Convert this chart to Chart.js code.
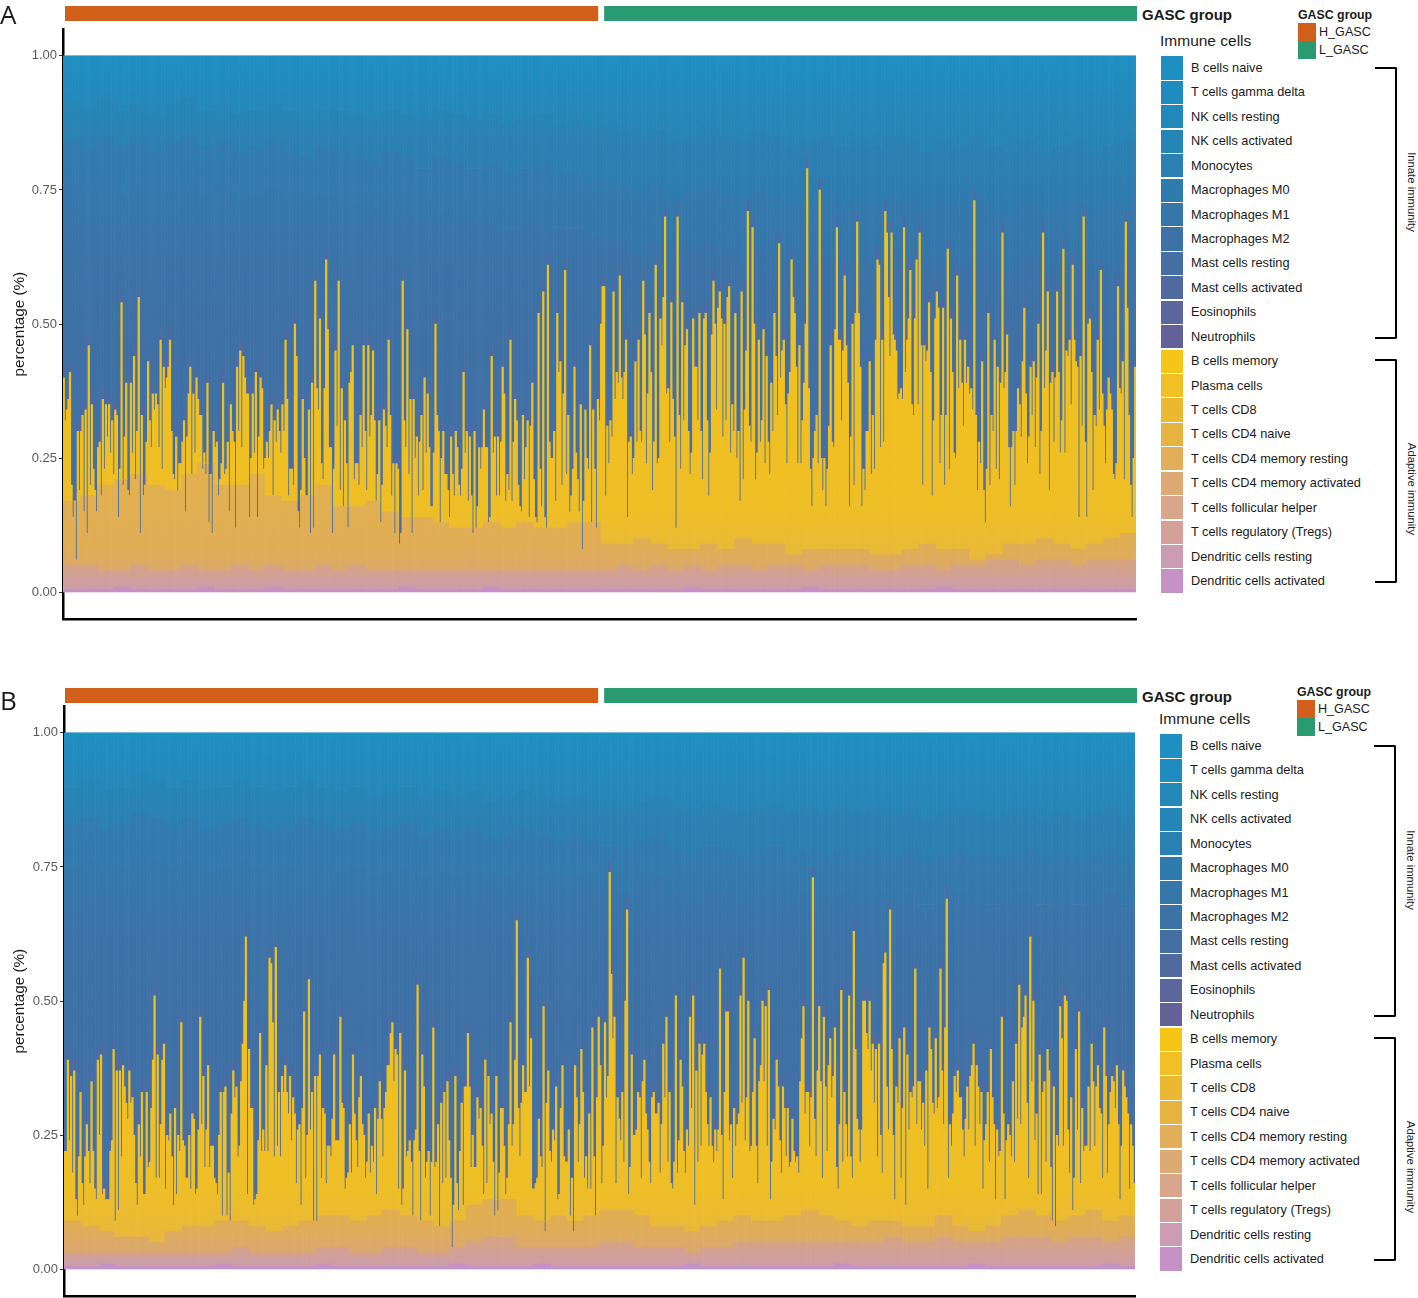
<!DOCTYPE html>
<html>
<head>
<meta charset="utf-8">
<title>Immune cell fractions by GASC group</title>
<script src="https://cdn.jsdelivr.net/npm/chart.js@4"></script>
<style>
  html, body { margin: 0; padding: 0; background: #fff; overflow: hidden; }
  body { width: 1418px; height: 1298px; position: relative; font-family: "Liberation Sans", Arial, sans-serif; color: #1a1a1a; }
  canvas { position: absolute; left: 0; }
  .txt { position: absolute; white-space: nowrap; line-height: 1; transform: translateY(-50%); }
  .swatch { position: absolute; }
  .bracket { position: absolute; border: solid #000; border-width: 2.5px 2.5px 2.5px 0; border-radius: 0 2px 2px 0; box-sizing: border-box; }
  .vert { position: absolute; writing-mode: vertical-rl; font-size: 11.3px; white-space: nowrap; transform: translateY(-50%); color: #222; }
</style>
</head>
<body>
<canvas id="panelA"></canvas>
<canvas id="panelB"></canvas>
<script>
const tickValues = [0, 0.25, 0.5, 0.75, 1];

const innateNames = ["B cells naive", "T cells gamma delta", "NK cells resting", "NK cells activated", "Monocytes", "Macrophages M0", "Macrophages M1", "Macrophages M2", "Mast cells resting", "Mast cells activated", "Eosinophils", "Neutrophils"];
const adaptiveNames = ["B cells memory", "Plasma cells", "T cells CD8", "T cells CD4 naive", "T cells CD4 memory resting", "T cells CD4 memory activated", "T cells follicular helper", "T cells regulatory (Tregs)", "Dendritic cells resting", "Dendritic cells activated"];
const innateColors = ["#1f8ec1", "#1f8bbe", "#2288ba", "#2485b7", "#2a80b2", "#2e7bae", "#3677aa", "#3c72a6", "#456ea3", "#506aa0", "#5a669c", "#636197"];
const adaptiveColors = ["#f5c518", "#f0c026", "#ebb931", "#e6b340", "#e2ae5a", "#dcaa72", "#d8a68a", "#d3a09a", "#cc9cb2", "#c692c6"];

const groupNames = ["H_GASC", "L_GASC"];
const groupColors = ["#d2601a", "#2a9a72"];
const groupCountsA = [342, 345];
const groupCountsB = [340, 343];

// top of the yellow (adaptive) part of each bar, percent, panel A
const adaptiveTopA = [40,32,34,36,41,20,14,17,6,30,19,30,33,15,34,11,46,20,35,23,19,15,27,28,18,36,23,35,29,35,26,32,22,34,33,14,23,54,20,29,39,19,18,39,26,44,21,30,55,11,33,18,20,28,43,32,27,37,34,37,35,27,47,23,42,38,40,42,47,30,22,21,29,19,24,24,28,32,15,29,37,42,22,37,26,40,36,33,33,23,26,22,39,13,22,11,30,27,28,18,21,24,39,22,23,28,15,35,30,28,12,42,30,45,27,44,40,37,37,14,25,37,26,41,14,29,40,38,23,25,28,25,30,35,18,32,28,34,30,26,35,30,47,36,18,23,23,20,50,44,15,12,19,36,25,18,18,34,11,39,12,58,38,34,51,24,21,38,
62,49,27,27,11,23,45,31,58,19,38,16,32,24,12,39,41,46,21,24,24,20,33,27,46,30,19,46,29,33,45,32,17,22,32,13,20,34,31,27,47,33,18,24,11,24,23,9,11,58,32,27,49,22,36,11,36,25,29,18,28,33,19,40,26,37,27,16,16,26,50,33,30,13,25,30,22,22,19,14,29,22,18,30,27,20,18,23,41,26,30,17,29,18,11,30,12,16,27,23,27,34,27,27,13,14,44,26,29,18,29,18,28,42,37,17,22,19,47,17,28,36,32,20,16,15,33,21,27,32,14,31,39,21,14,13,52,23,16,56,14,12,61,28,25,25,30,17,52,41,43,20,37,60,22,33,15,18,23,42,26,21,15,35,8,17,34,25,23,46,13,34,23,12,
36,32,50,57,57,18,31,24,32,29,56,36,41,39,59,40,36,41,47,14,28,29,22,25,43,28,47,30,28,58,48,24,37,52,41,19,28,61,24,25,51,46,55,70,37,38,28,54,36,29,12,70,33,23,54,32,46,49,30,22,26,51,42,42,32,52,30,21,51,52,32,18,26,48,58,50,34,53,56,51,29,50,32,55,57,26,35,30,52,25,30,17,56,21,34,45,71,31,28,68,50,21,26,47,28,32,49,24,44,28,22,39,30,52,44,33,65,40,45,47,35,24,37,41,62,55,52,42,24,46,24,32,39,50,79,38,23,16,25,30,33,24,75,25,19,25,16,23,31,46,28,27,49,68,47,47,32,45,59,46,39,16,29,50,20,52,69,52,42,16,23,19,30,
30,43,22,33,23,47,62,61,27,47,28,71,67,55,44,67,48,47,45,36,37,38,36,68,41,47,51,60,35,33,51,62,35,67,46,20,46,43,45,54,41,18,32,51,56,53,24,33,53,20,33,64,23,51,41,26,25,59,38,47,39,31,47,39,42,37,38,34,73,33,19,28,24,43,19,13,23,52,20,33,30,47,23,42,21,39,67,38,41,48,27,16,27,30,20,30,38,35,29,43,53,37,24,29,42,33,43,27,40,50,22,30,67,38,45,56,19,39,41,28,40,56,41,26,32,64,26,45,44,47,35,61,47,43,42,14,44,31,70,28,14,50,51,41,19,33,31,47,34,60,37,31,24,34,40,37,34,22,21,24,57,38,37,43,21,69,53,33,20,14,25,42];

// same for panel B
const adaptiveTopB = [22,22,39,24,36,18,37,13,10,21,33,16,12,21,27,22,16,35,22,15,13,39,25,40,14,15,13,13,13,22,24,41,9,37,11,37,21,38,34,31,28,37,31,32,25,16,12,27,21,33,14,14,33,19,20,30,39,51,17,40,17,27,39,42,15,25,24,29,21,12,30,14,25,22,46,24,23,17,17,25,15,29,28,14,15,26,47,27,36,19,26,38,19,23,23,17,16,14,25,33,10,33,34,10,18,9,29,37,32,34,21,23,35,42,50,62,14,41,30,30,12,13,14,24,44,22,26,22,38,22,58,57,46,21,60,23,33,21,36,33,38,33,29,36,24,32,29,16,26,27,12,30,48,17,25,54,26,33,9,36,9,36,40,17,30,
29,16,23,23,21,28,40,24,24,24,47,31,30,15,17,18,27,18,40,29,24,19,32,36,27,25,17,20,29,18,23,20,30,14,28,35,28,21,30,33,38,38,44,46,35,41,40,15,44,12,15,37,21,22,24,20,10,24,26,53,22,9,40,34,17,20,22,10,20,45,19,20,27,8,31,16,33,17,35,24,17,4,12,36,16,11,22,31,12,34,34,44,34,19,25,19,19,32,28,30,23,14,39,16,36,27,29,20,10,36,11,18,30,30,23,14,17,27,46,23,27,39,65,30,21,31,38,33,33,58,34,43,15,15,16,17,28,21,19,49,7,31,37,22,20,26,24,34,13,14,30,38,21,20,20,26,10,17,7,38,32,20,27,41,33,17,21,15,29,15,45,21,10,32,
47,38,16,23,46,32,36,74,55,43,47,16,32,28,24,33,20,50,67,14,19,40,25,25,26,33,32,17,35,39,29,26,20,16,32,33,29,29,31,18,27,42,32,47,20,33,16,15,20,51,18,24,39,34,22,18,26,23,47,30,51,12,37,20,42,23,40,42,33,27,23,32,23,20,26,22,26,56,25,13,33,48,48,24,27,17,30,23,27,29,51,31,58,24,32,50,22,23,33,43,23,16,35,38,50,35,49,23,52,13,20,28,26,39,34,24,18,34,30,21,30,19,20,28,22,20,21,18,35,43,49,29,33,33,23,32,73,28,21,37,49,35,17,47,34,22,38,43,32,36,45,19,15,27,52,20,33,27,21,51,21,17,63,41,28,26,20,26,50,
50,44,41,50,37,42,31,41,21,42,25,18,57,59,34,26,67,41,25,13,34,31,43,17,30,45,12,40,26,33,32,34,56,27,35,35,26,31,23,37,15,45,41,31,29,43,30,32,56,37,27,45,69,17,27,23,29,36,33,37,32,32,26,21,28,34,26,36,38,42,23,38,34,27,33,15,24,27,33,20,41,32,27,13,26,21,22,47,29,13,24,27,25,21,35,20,42,28,53,27,45,47,51,31,17,62,35,50,24,29,14,40,14,33,35,20,41,37,19,9,34,8,25,23,49,43,23,51,50,26,18,32,11,17,41,26,48,16,30,22,23,23,34,22,42,35,23,34,38,30,29,17,45,36,18,27,33,36,35,30,38,27,13,23,37,34,32,29,15,27,23,16];

// cumulative band tops in percent, read in wider steps along the x axis
const tanTopA = [17,18,20,21,22,20,19,22,24,20,20,22,18,17,18,20,16,16,17,15,14,14,13,12,12,13,12,13,12,12,13,13,9,9,10,9,8,8,9,8,10,9,9,7,8,8,8,8,7,7,8,9,8,8,6,7,9,9,10,9,8,9,10,11];
const salmonTopA = [5,5,4,4,5,4,4,5,4,4,5,4,5,4,4,5,4,5,4,4,4,4,4,4,4,4,4,4,4,4,4,4,4,5,4,5,4,5,4,5,5,4,5,5,4,5,5,5,4,4,5,5,4,5,5,6,6,5,6,6,5,6,6,6];
const dendriticTopA = [.5,.5,.5,1,.5,.5,.5,.5,1,.5,.5,.5,1,.5,.5,.5,.5,.5,.5,.5,1,.5,.5,.5,.5,1,.5,.5,.5,.5,.5,.5,.5,.5,.5,.5,.5,1,.5,.5,.5,.5,.5,.5,1,.5,.5,.5,.5,.5,.5,.5,1,.5,.5,.5,.5,.5,.5,.5,.5,.5,.5,.5];
const blueTop1A = [91,90,92,90,91,89,91,92,90,91,89,90,91,90,88,90,90,89,88,90,89,88,90,89,88,89,87,88,89,87,88,87,87,86,85,86,84,85,87,85,84,86,85,83,84,85,83,84,83,85,84,82,84,83,85,83,82,84,82,83,84,82,83,84];
const blueTop2A = [84,83,85,83,84,82,84,85,83,84,82,83,84,82,81,83,82,81,80,82,81,79,81,80,79,80,78,79,80,78,78,77,77,76,74,76,73,75,76,74,73,75,74,72,73,74,72,73,72,74,73,71,73,72,74,71,70,73,71,72,73,70,72,73];
const blueTop3A = [76,75,77,74,76,73,75,76,74,76,73,74,75,73,72,74,73,72,71,73,71,69,71,70,69,70,68,69,70,68,68,66,66,65,63,65,62,64,65,63,62,64,63,61,62,63,61,62,60,63,62,60,62,61,63,60,59,62,60,61,62,59,61,62];

const tanTopB = [9,8,7,6,6,5,7,8,8,9,9,8,7,8,9,10,10,9,10,11,10,9,8,9,12,13,13,10,9,10,9,10,11,11,10,8,8,7,8,9,10,9,9,10,11,10,9,8,9,9,8,8,10,8,7,8,10,11,10,9,10,11,9,10];
const salmonTopB = [3,3,3,3,3,3,3,3,3,3,4,3,3,3,3,4,4,3,3,4,4,3,3,4,5,6,6,4,4,4,4,4,5,5,4,4,4,3,4,4,5,5,5,5,5,5,5,5,5,6,5,5,6,5,5,5,6,6,6,5,6,6,5,6];
const dendriticTopB = [.5,.5,1,.5,.5,.5,.5,.5,.5,1,.5,.5,.5,.5,.5,1,.5,.5,.5,.5,.5,.5,.5,1,.5,.5,.5,.5,1,.5,.5,.5,.5,.5,.5,.5,.5,1,.5,.5,.5,.5,.5,.5,.5,.5,1,.5,.5,.5,.5,.5,.5,.5,1,.5,.5,.5,.5,.5,.5,.5,1,.5];
const blueTop1B = [90,91,89,90,92,91,90,91,89,90,91,90,89,90,91,90,89,90,88,89,90,88,89,88,89,87,88,89,88,87,88,87,87,86,87,88,86,85,87,86,85,86,87,85,86,85,86,85,86,85,86,84,85,86,85,84,85,86,84,85,84,85,86,84];
const blueTop2B = [83,84,82,83,85,84,83,84,82,83,84,83,82,83,84,83,82,83,81,82,83,81,82,81,82,80,81,82,81,80,81,80,79,78,80,81,78,77,79,78,77,78,79,77,78,77,78,77,78,77,78,76,77,78,77,76,77,78,76,77,76,77,78,76];
const blueTop3B = [75,76,74,75,77,76,75,76,74,75,76,75,74,75,76,75,74,75,73,74,75,73,74,73,74,72,73,74,73,72,73,72,71,70,72,73,70,69,71,70,69,70,71,69,70,69,70,69,70,69,70,68,69,70,69,68,69,70,68,69,68,69,70,68];

// each band is painted with a vertical colour ramp: [value on the y axis, colour], top to bottom
const bandRamps = [
  [[0.02, "#c795c0"], [0, "#c490c6"]],
  [[0.1, "#dba768"], [0.04, "#d3a18c"], [0, "#cb9cb0"]],
  [[0.25, "#e3b14c"], [0.08, "#e0ad55"], [0.02, "#d8a578"]],
  [[0.4, "#f0c01e"], [0.15, "#eebe26"], [0.04, "#e7b63f"]],
  [[1, "#52699f"], [0, "#52699f"]],
  [[0.8, "#337aad"], [0.65, "#3a74a8"], [0.45, "#3f70a5"], [0.2, "#4270a5"]],
  [[0.9, "#2f7cb0"], [0.75, "#337aad"], [0.6, "#3775a9"]],
  [[0.92, "#2586b8"], [0.85, "#2a81b4"], [0.7, "#3079ad"]],
  [[1, "#1f8fc1"], [0.85, "#2884b7"]]
];

function rampFill(ctx, ramp) {
  const chart = ctx.chart;
  if (!chart.chartArea) return ramp[0][1];
  const y = chart.scales.y;
  const y0 = y.getPixelForValue(ramp[0][0]);
  const y1 = y.getPixelForValue(ramp[ramp.length - 1][0]);
  const g = chart.ctx.createLinearGradient(0, y0, 0, y1);
  ramp.forEach(([v, c]) => g.addColorStop((y.getPixelForValue(v) - y0) / (y1 - y0), c));
  return g;
}

function buildDatasets(top, dend, salmon, tan, b3, b2, b1) {
  const bands = bandRamps.map(ramp => ({
    data: [],
    backgroundColor: ctx => rampFill(ctx, ramp),
    borderWidth: 0,
    stack: "s"
  }));
  top.forEach((v, i) => {
    const k = Math.floor(i * tan.length / top.length);
    const d = Math.min(dend[k], v);
    const s = Math.min(salmon[k], v);
    const t = Math.min(tan[k], v);
    const e3 = Math.max(b3[k], v + 2);
    const e2 = Math.max(b2[k], e3);
    const e1 = Math.max(b1[k], e2);
    const cuts = [0, d, s, t, v, v + 2, e3, e2, e1, 100];
    bands.forEach((b, j) => b.data.push((cuts[j + 1] - cuts[j]) / 100));
  });
  return bands;
}

// orange / green annotation strip above the bars, follows the x scale
const groupStrip = {
  id: "groupStrip",
  afterDraw(chart, args, opts) {
    const x = chart.scales.x, ctx = chart.ctx;
    const total = opts.counts[0] + opts.counts[1];
    const split = x.left + (x.right - x.left) * opts.counts[0] / total;
    ctx.save();
    ctx.fillStyle = groupColors[0];
    ctx.fillRect(opts.start, opts.top, split + 1 - opts.start, 15);
    ctx.fillStyle = groupColors[1];
    ctx.fillRect(split + 7, opts.top, 1137 - split - 7, 15);
    ctx.restore();
  }
};

function drawPanel(id, canvasTop, canvasH, padTop, datasets, counts, stripTop, left, right) {
  const canvas = document.getElementById(id);
  canvas.style.top = canvasTop + "px";
  canvas.width = 1140;
  canvas.height = canvasH;
  canvas.style.width = "1140px";
  canvas.style.height = canvasH + "px";
  new Chart(canvas, {
    type: "bar",
    data: { labels: datasets[0].data.map((_, i) => i + 1), datasets },
    plugins: [groupStrip],
    options: {
      responsive: false,
      animation: false,
      events: [],
      layout: { padding: { top: padTop, bottom: 0, right: 1140 - right, left: 0 } },
      datasets: { bar: { categoryPercentage: 1, barPercentage: 1 } },
      plugins: {
        legend: { display: false },
        tooltip: { enabled: false },
        groupStrip: { counts, top: stripTop, start: 65 }
      },
      scales: {
        x: {
          stacked: true,
          grid: { display: false },
          ticks: { display: false },
          border: { color: "#000", width: 2.5 },
          afterFit: s => { s.height = 0; }
        },
        y: {
          stacked: true,
          min: -0.05,
          max: 1.05,
          afterFit: s => { s.width = left; },
          afterBuildTicks: s => { s.ticks = tickValues.map(value => ({ value })); },
          grid: { drawOnChartArea: false, drawTicks: true, tickLength: 4, color: "#333" },
          border: { color: "#000", width: 2.5 },
          ticks: {
            padding: 2,
            color: "#5a5a5a",
            font: { family: "Liberation Sans", size: 13 },
            callback: v => v.toFixed(2)
          },
          title: {
            display: true,
            text: "percentage (%)",
            color: "#1a1a1a",
            font: { family: "Liberation Sans", size: 15.3 },
            padding: { top: 11, bottom: 0 }
          }
        }
      }
    }
  });
}

function addText(text, x, y, size, extra) {
  const el = document.createElement("div");
  el.className = "txt";
  el.textContent = text;
  el.style.left = x + "px";
  el.style.top = y + "px";
  el.style.fontSize = size + "px";
  if (extra) Object.assign(el.style, extra);
  document.body.appendChild(el);
}

function addBox(cls, x, y, w, h, color) {
  const el = document.createElement("div");
  el.className = cls;
  el.style.left = x + "px";
  el.style.top = y + "px";
  el.style.width = w + "px";
  el.style.height = h + "px";
  if (color) el.style.background = color;
  document.body.appendChild(el);
}

function addSide(letter, letterY, groupY, dy, dx, smallDy) {
  addText(letter, 0, letterY, 26, { fontFamily: "Open Sans" });
  addText("GASC group", 1142, groupY, 15, { fontWeight: "bold" });
  addText("Immune cells", 1160 + dx, 40.5 + dy, 15.5, { color: "#222" });

  addText("GASC group", 1298 + dx, 15 + smallDy, 12.35, { fontWeight: "bold" });
  groupNames.forEach((g, i) => {
    addBox("swatch", 1298 + dx, 23 + smallDy + i * 18, 18, 18, groupColors[i]);
    addText(g, 1319 + dx, 32 + smallDy + i * 18, 12.6);
  });

  const names = innateNames.concat(adaptiveNames);
  const colors = innateColors.concat(adaptiveColors);
  names.forEach((n, i) => {
    const cy = 68 + dy + i * 24.43;
    addBox("swatch", 1161 + dx, cy - 11.6, 22, 23.2, colors[i]);
    addText(n, 1191 + dx, cy, 12.75);
  });

  addBox("bracket", 1375 + dx, 67 + dy, 22, 272);
  addBox("bracket", 1375 + dx, 359 + dy, 22, 224);
  const v1 = document.createElement("div");
  v1.className = "vert";
  v1.textContent = "Innate immunity";
  v1.style.left = (1406 + dx) + "px";
  v1.style.top = (192 + dy) + "px";
  document.body.appendChild(v1);
  const v2 = v1.cloneNode(true);
  v2.textContent = "Adaptive immunity";
  v2.style.top = (489 + dy) + "px";
  document.body.appendChild(v2);
}

drawPanel("panelA", 0, 629, 29, buildDatasets(adaptiveTopA, dendriticTopA, salmonTopA, tanTopA, blueTop3A, blueTop2A, blueTop1A), groupCountsA, 6, 63, 1136);
drawPanel("panelB", 680, 626, 26, buildDatasets(adaptiveTopB, dendriticTopB, salmonTopB, tanTopB, blueTop3B, blueTop2B, blueTop1B), groupCountsB, 8, 64, 1135);
addSide("A", 14, 14, 0, 0, 0);
addSide("B", 700, 696, 678, -1, 677);
</script>
</body>
</html>
